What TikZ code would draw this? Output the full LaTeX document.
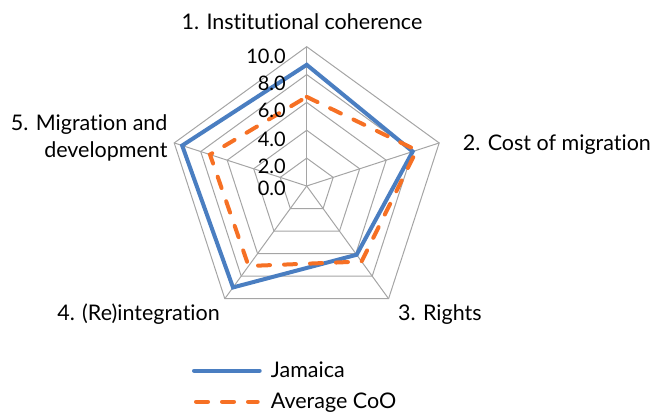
\documentclass[tikz,border=0pt]{standalone}
\usepackage{fontspec}
\setmainfont[Ligatures=NoCommon]{Lato}
\usetikzlibrary{positioning}

\definecolor{jamblue}{RGB}{74,126,193}
\definecolor{cooorange}{RGB}{246,112,36}
\definecolor{gridgray}{RGB}{165,165,165}

\begin{document}
\begin{tikzpicture}[x=1pt,y=1pt,font=\fontsize{21.5}{27}\selectfont,
                    inner sep=0pt]

  \tikzstyle{grid}=[draw=gridgray,line width=1pt]
  \tikzstyle{jam}=[draw=jamblue,line width=4pt]
  \tikzstyle{avg}=[draw=cooorange,line width=4pt,line cap=round,
                   dash pattern=on 12pt off 14pt]
  \tikzstyle{tick}=[anchor=east,font=\fontsize{20}{24}\selectfont]

  \useasboundingbox (0,0) rectangle (655,413);

  \coordinate (O) at (306.7,227);

  % web
  \begin{scope}[shift={(O)},x=13.93pt,y=13.93pt]
    \foreach \r in {2,4,6,8,10}
      \draw[grid] (90:\r) -- (18:\r) -- (-54:\r) -- (-126:\r) -- (162:\r) -- cycle;
    \foreach \a in {90,18,-54,-126,162}
      \draw[grid] (0,0) -- (\a:10);

    \draw[jam] (90:8.7) -- (18:8.0) -- (-54:6.1) -- (-126:9.0) -- (162:9.4) -- cycle;
    \draw[avg] (90:6.4) -- (18:8.3) -- (-54:6.7) -- (-126:7.1) -- (162:7.3) -- cycle;
  \end{scope}

  % scale
  \node[tick] (t0)  at (286,225)   {0.0};
  \node[tick] (t2)  at (286,247)   {2.0};
  \node[tick] (t4)  at (286,273.5) {4.0};
  \node[tick] (t6)  at (286,302.4) {6.0};
  \node[tick] (t8)  at (286,330)   {8.0};
  \node[tick] (t10) at (286,357)   {10.0};

  % axes
  \node[anchor=base]      (inst) at (302,383)   {1. Institutional coherence};
  \node[anchor=base west] (cost) at (462.7,263) {2. Cost of migration};
  \node[anchor=base west] (rght) at (398,93)    {3. Rights};
  \node[anchor=base east] (rein) at (220,93)    {4. (Re)integration};
  \node[anchor=east,align=right] (migd) at (167.7,275) {5. Migration and\\development};

  % legend
  \node[anchor=base west] (jamtxt) at (270.7,36) {Jamaica};
  \node[anchor=base west] (avgtxt) at (270.7,5)  {Average CoO};
  \coordinate (jamkey) at (194,42.3);
  \coordinate (avgkey) at (196,11.3);
  \draw[jam,line cap=round] (jamkey) -- (jamkey -| jamtxt.west) [shorten >=11pt];
  \draw[avg] (avgkey) -- (avgkey -| avgtxt.west) [shorten >=13pt];
\end{tikzpicture}
\end{document}
